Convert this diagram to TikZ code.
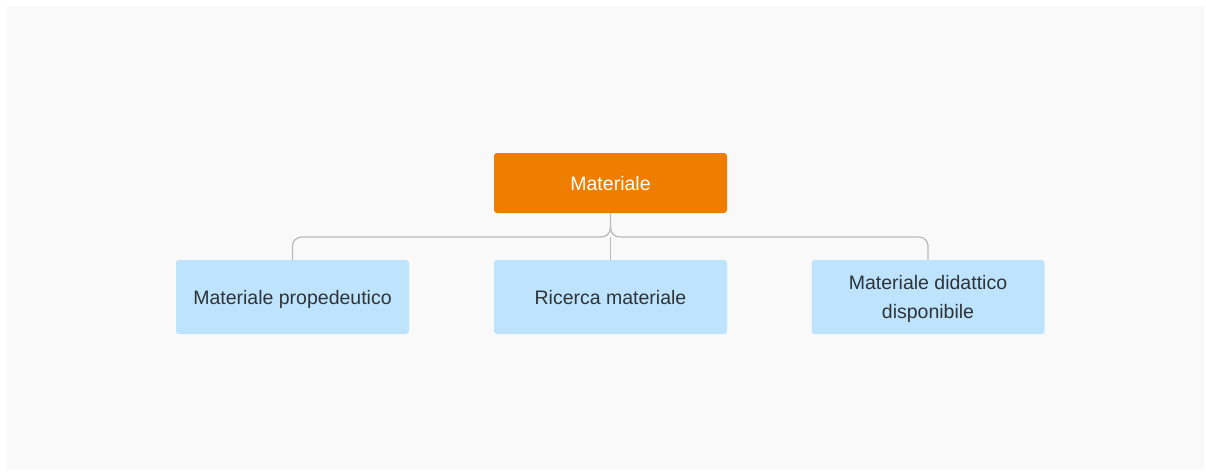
\documentclass[tikz,border=0pt]{standalone}
\usepackage{fontspec}
\setmainfont{Liberation Sans}
\usetikzlibrary{calc}
\definecolor{bgc}{HTML}{F9F9F9}
\definecolor{orangec}{HTML}{EF7D00}
\definecolor{bluec}{HTML}{BEE3FD}
\definecolor{linec}{HTML}{BBBBBB}
\definecolor{textc}{HTML}{2E3338}
\tikzset{
  rootbox/.style={fill=orangec, rounded corners=3pt, minimum width=233pt, minimum height=60pt, text=white, font=\fontsize{19.5}{27}\selectfont, inner sep=0pt, text depth=0pt},
  childbox/.style={fill=bluec, rounded corners=3pt, minimum width=233pt, minimum height=74pt, text=textc, font=\fontsize{19.5}{29}\selectfont, align=center, inner sep=0pt, text depth=0pt},
  conn/.style={draw=linec, line width=1.3pt}
}
\begin{document}
\begin{tikzpicture}[x=1pt,y=-1pt]
\useasboundingbox (0,0) rectangle (1206,472);
\fill[white] (0,0) rectangle (1206,472);
\fill[bgc] (7,6) rectangle (1204,470);
\node[rootbox] (m) at (610.5,183) {Materiale};
\node[childbox] (c1) at (292.5,297) {Materiale propedeutico};
\node[childbox] (c2) at (610.5,297) {Ricerca materiale};
\node[childbox] (c3) at (928,297) {Materiale didattico\\disponibile};
\coordinate (bar) at (610.5,237);
\coordinate (jl) at (600.5,237);
\coordinate (jr) at (620.5,237);
\coordinate (jt) at (610.5,227);
\draw[conn, rounded corners=9pt] (c1.north) |- (jl);
\draw[conn, rounded corners=9pt] (c3.north) |- (jr);
\draw[conn] (m.south) -- (jt) .. controls (610.5,234) and (606,237) .. (jl);
\draw[conn] (jt) .. controls (610.5,234) and (615,237) .. (jr);
\draw[conn] (c2.north) -- (bar);
\end{tikzpicture}
\end{document}
